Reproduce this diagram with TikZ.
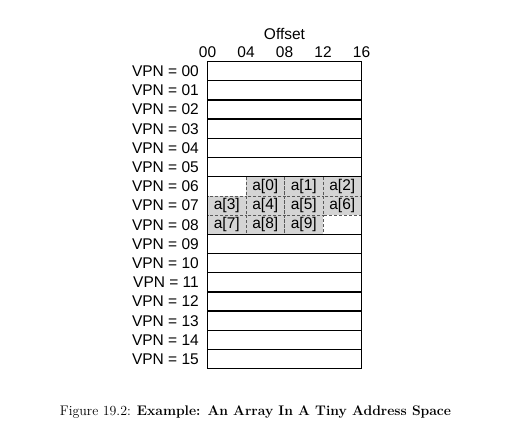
\documentclass[tikz,border=0pt]{standalone}
\usepackage{fontspec}
\newfontfamily\helv{Liberation Sans}
\begin{document}
\begin{tikzpicture}[x=1pt,y=-1pt,
  lbl/.style={font=\helv\fontsize{15.5}{18}\selectfont, inner sep=0pt},
  rowbox/.style={draw=black, line width=1.3pt},
  cell/.style={draw=black!65, fill=black!17, dashed, dash pattern=on 3pt off 2pt, line width=0.8pt}]
\useasboundingbox (0,0) rectangle (510,436);
\def\xl{207.5}\def\cw{38.5}\def\yt{61.5}\def\rh{19.2}
% plain rows
\foreach \r in {0,1,2,3,4,5,9,10,11,12,13,14,15}{
  \draw[rowbox] (\xl,{\yt+\r*\rh}) rectangle ({\xl+4*\cw},{\yt+(\r+1)*\rh});
}
% array cells
\foreach \r/\c/\n in {6/1/0,6/2/1,6/3/2,7/0/3,7/1/4,7/2/5,7/3/6,8/0/7,8/1/8,8/2/9}{
  \draw[cell] ({\xl+\c*\cw},{\yt+\r*\rh}) rectangle ({\xl+(\c+1)*\cw},{\yt+(\r+1)*\rh});
  \node[lbl] (a\n) at ({\xl+(\c+0.5)*\cw},{\yt+(\r+0.5)*\rh}) {a[\n]};
}
% outer frame of rows 06-08
\draw[rowbox] (\xl,{\yt+6*\rh}) rectangle ({\xl+4*\cw},{\yt+9*\rh});
% VPN labels
\foreach \r/\vv in {0/00,1/01,2/02,3/03,4/04,5/05,6/06,7/07,8/08,9/09,10/10,11/11,12/12,13/13,14/14,15/15}{
  \node[lbl, anchor=east] (v\r) at (199,{\yt+(\r+0.5)*\rh}) {VPN = \vv};
}
% offset labels
\node[lbl] (o0) at ({\xl+0*\cw},52) {00};
\node[lbl] (o1) at ({\xl+1*\cw},52) {04};
\node[lbl] (o2) at ({\xl+2*\cw},52) {08};
\node[lbl] (o3) at ({\xl+3*\cw},52) {12};
\node[lbl] (o4) at ({\xl+4*\cw},52) {16};
\node[lbl] (off) at ({\xl+2*\cw},34) {Offset};
% caption
\node[font=\fontsize{13.9}{16}\selectfont, inner sep=0pt] (cap) at (255.5,412) {Figure 19.2: \textbf{Example: An Array In A Tiny Address Space}};
\end{tikzpicture}
\end{document}
